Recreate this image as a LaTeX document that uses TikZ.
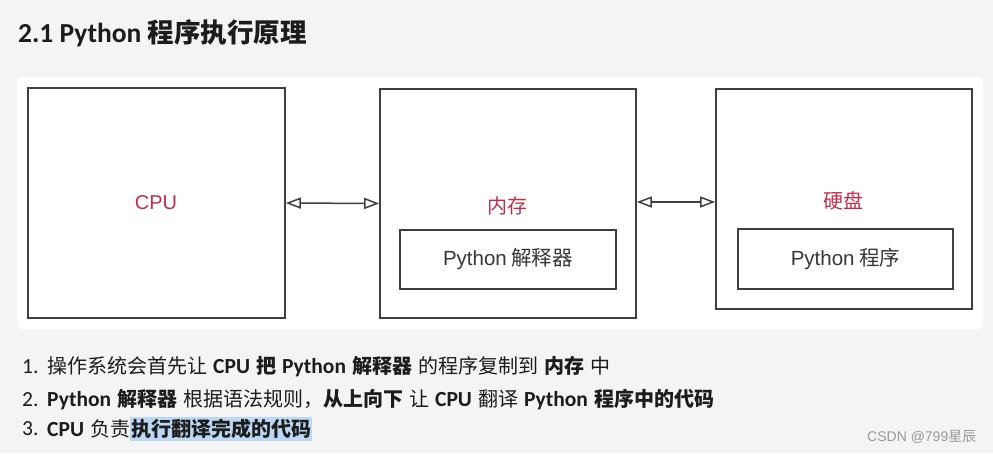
\documentclass[tikz,border=0pt]{standalone}
\usepackage{fontspec}
\setmainfont{Carlito}
\newfontfamily\cjk{Noto Sans CJK SC}
\newfontfamily\arialf{Liberation Sans}
\usetikzlibrary{arrows.meta}
\definecolor{pagebg}{HTML}{F4F4F4}
\definecolor{boxline}{HTML}{3F3F3F}
\definecolor{labred}{HTML}{B8304E}
\definecolor{txt}{HTML}{1C1C1C}
\definecolor{hl}{HTML}{BCD8F5}
\definecolor{wm}{HTML}{9A9A9A}
\newcommand\zh[1]{{\cjk #1}}
\newcommand\zl[1]{{\cjk\fontsize{20pt}{24pt}\selectfont #1}}
\newcommand\gap{\hspace{6pt}}
\tikzset{
  outerbox/.style={draw=boxline, line width=1.6pt, fill=white, inner sep=0pt},
  innerbox/.style={draw=boxline, line width=1.4pt, fill=white, inner sep=0pt},
  redlab/.style={text=labred, inner sep=0pt, font=\fontsize{20pt}{24pt}\selectfont},
  boxlab/.style={text=txt!88!white, inner sep=0pt, font=\fontsize{20.5pt}{24pt}\selectfont},
  biarrow/.style={{Triangle[open,length=15pt,width=11pt]}-{Triangle[open,length=15pt,width=11pt]}, line width=1.5pt, draw=boxline},
  listtxt/.style={anchor=west, inner sep=0pt, text=txt, font=\fontsize{21.5pt}{24pt}\selectfont},
}
\begin{document}
\begin{tikzpicture}[x=1pt,y=-1pt]
\fill[pagebg] (0,0) rectangle (993,453);
\useasboundingbox (0,0) rectangle (993,453);
% title
\node[anchor=west, inner sep=0pt, text=txt, font=\fontsize{27.5pt}{30pt}\selectfont\bfseries] (title) at (18,33) {2.1 Python {\cjk\fontsize{26.5pt}{30pt}\selectfont 程序执行原理}};
% panel
\fill[white, rounded corners=6pt] (17,77) rectangle (983,329);
% boxes
\node[outerbox, minimum width=257pt, minimum height=230pt] (cpu) at (156.5,203) {};
\node[outerbox, minimum width=256pt, minimum height=229pt] (mem) at (508,203.5) {};
\node[outerbox, minimum width=256pt, minimum height=220pt] (disk) at (844,199) {};
\node[innerbox, minimum width=216pt, minimum height=59pt] (memin) at (508,259.5) {};
\node[innerbox, minimum width=215pt, minimum height=60pt] (diskin) at (845.5,259) {};
% labels
\node[redlab, font=\fontsize{20pt}{24pt}\arialf] (cpulab) at (156,203) {CPU};
\node[redlab] (memlab) at (507,206) {\zh{内存}};
\node[redlab] (disklab) at (843,201) {\zh{硬盘}};
\node[boxlab] (meminlab) at (memin.center) {{\arialf Python} \zh{解释器}};
\node[boxlab] (diskinlab) at (diskin.center) {{\arialf Python} \zh{程序}};
% arrows
\draw[biarrow] (cpu.east) -- (mem.west);
\draw[biarrow] ([yshift=1.5pt]mem.east) -- ([yshift=1.5pt]mem.east -| disk.west);
% list
\node[listtxt] (n1) at (22,367) {1.};
\node[listtxt] (l1) at (47,367) {\zl{操作系统会首先让}\gap\textbf{CPU}\gap\textbf{\zl{把}}\gap\textbf{Python\gap\zl{解释器}}\gap\zl{的程序复制到}\gap\textbf{\zl{内存}}\gap\zl{中}};
\node[listtxt] (n2) at (22,400) {2.};
\node[listtxt] (l2) at (47,400) {\textbf{Python\gap\zl{解释器}}\gap\zl{根据语法规则，}\textbf{\zl{从上向下}}\gap\zl{让}\gap\textbf{CPU}\gap\zl{翻译}\gap\textbf{Python\gap\zl{程序中的代码}}};
\node[listtxt] (n3) at (22,429) {3.};
\node[listtxt] (l3) at (47,429) {\textbf{CPU}\gap\zl{负责}};
\node[listtxt, fill=hl, inner xsep=1pt, minimum height=24pt] (l3h) at (l3.east) {\textbf{\zl{执行翻译完成的代码}}};
% watermark
\node[anchor=west, inner sep=0pt, text=wm, font=\fontsize{14pt}{16pt}\arialf] (wmk) at (867,437) {CSDN @799\zh{星辰}};
\end{tikzpicture}
\end{document}
